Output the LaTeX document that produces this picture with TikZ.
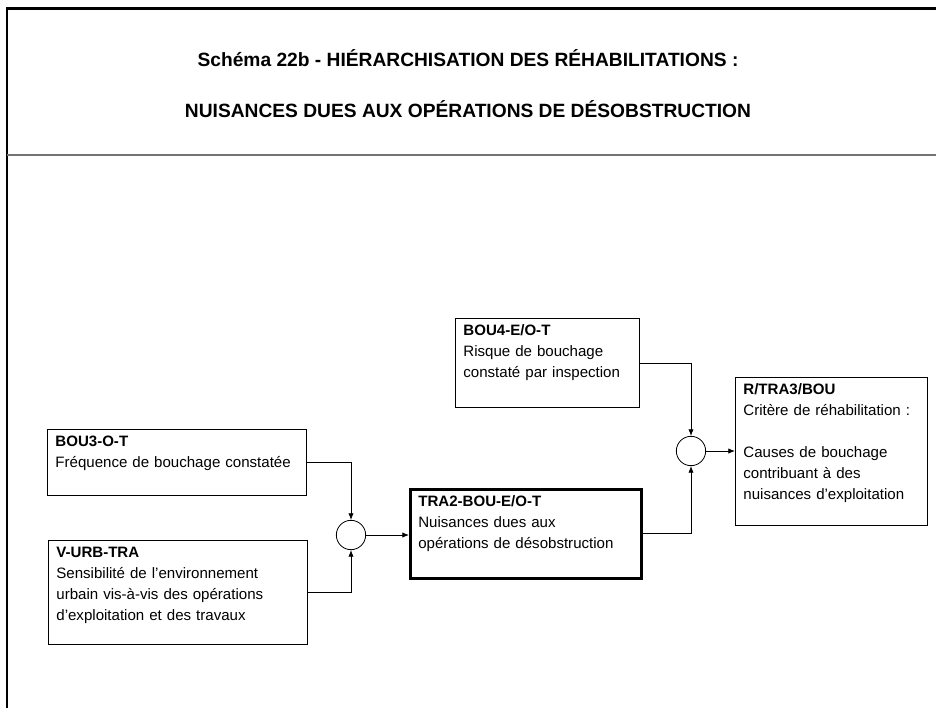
\documentclass[tikz,border=0pt]{standalone}
\usepackage{fontspec}
\setmainfont{Liberation Sans}
\usetikzlibrary{positioning,arrows.meta,calc}

\begin{document}
\begin{tikzpicture}[
  x=0.75pt,y=-0.75pt,
  font=\fontsize{11.3}{15.75}\selectfont,
  box/.style={draw,line width=0.6pt,anchor=north west,align=left,inner xsep=6pt,inner ysep=4.5pt,text height=8pt},
  hdr/.style={anchor=base,font=\bfseries\fontsize{14.4}{17}\selectfont},
  junc/.style={draw,circle,line width=0.6pt,minimum size=22pt,inner sep=0pt},
  >={Latex[length=5pt,width=4pt]}
]
\useasboundingbox (0,0) rectangle (936,708);

% frame and title
\draw[line width=1.8pt] (7,708) -- (7,8.5) -- (936,8.5);
\draw[black!55,line width=1.3pt] (7,155) -- (936,155);
\node[hdr] (title1) at (468,66) {Schéma 22b - HIÉRARCHISATION DES RÉHABILITATIONS :};
\node[hdr] (title2) at (468,117) {NUISANCES DUES AUX OPÉRATIONS DE DÉSOBSTRUCTION};

% criteria
\node[box,text width=182.25pt,text depth=32.5pt] (bou3) at (47,429) {\textbf{BOU3-O-T}\\Fréquence de bouchage constatée};
\node[box,text width=182.25pt,text depth=61pt] (vurb) at (48,540) {\textbf{V-URB-TRA}\\Sensibilité de l’environnement\\urbain vis-à-vis des opérations\\d’exploitation et des travaux};
\node[box,text width=126pt,text depth=49.75pt] (bou4) at (455,318) {\textbf{BOU4-E/O-T}\\Risque de bouchage\\constaté par inspection};
\node[box,line width=2pt,text width=161.25pt,text depth=49.75pt] (tra2) at (409,488) {\textbf{TRA2-BOU-E/O-T}\\Nuisances dues aux\\opérations de désobstruction};
\node[box,text width=132pt,text depth=94pt] (rtra) at (735,377) {\textbf{R/TRA3/BOU}\\Critère de réhabilitation :\\[15.75pt]Causes de bouchage\\contribuant à des\\nuisances d’exploitation};

% junctions
\node[junc] (c1) at (351,535) {};
\node[junc] (c2) at (691,451) {};

\draw[->,line width=0.6pt] (bou3.east) -| (c1.north);
\draw[->,line width=0.6pt] (vurb.east) -| (c1.south);
\draw[->,line width=0.6pt] (c1.east) -- (tra2.west |- c1.east);
\draw[->,line width=0.6pt] (tra2.east) -| (c2.south);
\draw[->,line width=0.6pt] (bou4.east) -| (c2.north);
\draw[->,line width=0.6pt] (c2.east) -- (rtra.west |- c2.east);
\end{tikzpicture}
\end{document}
